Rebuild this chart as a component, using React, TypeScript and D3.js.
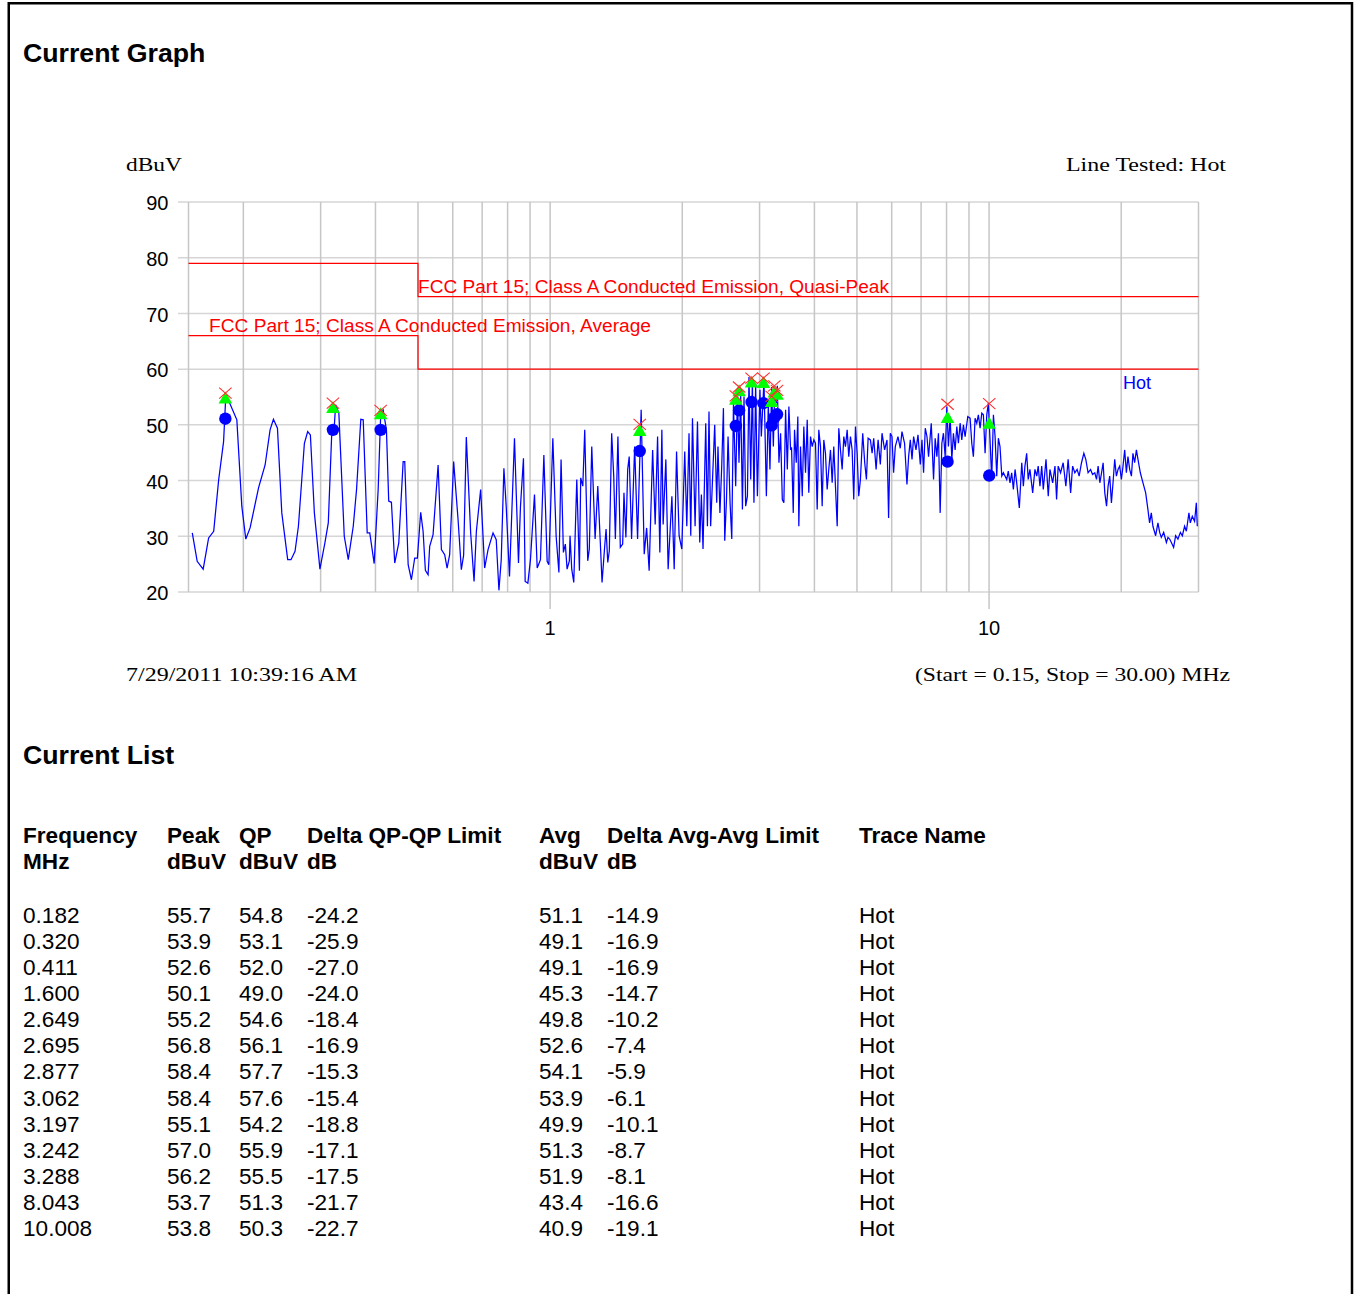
import React from "react";
import * as d3 from "d3";

// ---------- data ----------
const traceFreq = [
  0.153, 0.157, 0.162, 0.1667, 0.1712, 0.1757, 0.1803, 0.1825, 0.1933, 0.1984, 0.2026, 0.2072, 0.2166, 0.2242, 0.2301, 0.2342, 0.2392, 0.2447,
  0.2524, 0.2568, 0.2623, 0.267, 0.2755, 0.2803, 0.2843, 0.2903, 0.2989, 0.3068, 0.3123, 0.3178, 0.3223, 0.3245, 0.3301, 0.3396, 0.3468, 0.356,
  0.3622, 0.3704, 0.3751, 0.383, 0.3882, 0.3973, 0.4057, 0.4112, 0.4164, 0.4237, 0.4288, 0.4349, 0.4425, 0.452, 0.4625, 0.4664, 0.4748, 0.483,
  0.4914, 0.4984, 0.5071, 0.5135, 0.5197, 0.5271, 0.5316, 0.5411, 0.5556, 0.5653, 0.5751, 0.5824, 0.5903, 0.6028, 0.6169, 0.6276, 0.6352, 0.6442,
  0.6591, 0.6709, 0.6791, 0.6945, 0.7092, 0.722, 0.7411, 0.7537, 0.7644, 0.7737, 0.7846, 0.7941, 0.808, 0.8294, 0.847, 0.8559, 0.8694, 0.8772,
  0.8897, 0.9019, 0.9212, 0.9343, 0.9505, 0.9676, 0.9844, 0.9932, 1.0142, 1.032, 1.047, 1.059, 1.072, 1.083, 1.093, 1.106, 1.11, 1.12, 1.132,
  1.15, 1.166, 1.174, 1.187, 1.199, 1.218, 1.228, 1.244, 1.266, 1.284, 1.3, 1.313, 1.329, 1.341, 1.353, 1.364, 1.381, 1.396, 1.408, 1.427, 1.445,
  1.463, 1.473, 1.488, 1.502, 1.514, 1.533, 1.558, 1.582, 1.612, 1.638, 1.659, 1.681, 1.712, 1.735, 1.757, 1.778, 1.797, 1.809, 1.835, 1.857,
  1.894, 1.917, 1.941, 1.967, 1.995, 2.026, 2.048, 2.072, 2.091, 2.11, 2.139, 2.166, 2.192, 2.211, 2.23, 2.262, 2.282, 2.301, 2.321, 2.371,
  2.396, 2.412, 2.437, 2.46, 2.482, 2.499, 2.522, 2.543, 2.57, 2.593, 2.616, 2.647, 2.671, 2.693, 2.717, 2.742, 2.765, 2.789, 2.815, 2.838,
  2.864, 2.889, 2.913, 2.939, 2.966, 3.006, 3.028, 3.07, 3.109, 3.141, 3.168, 3.196, 3.225, 3.247, 3.276, 3.293, 3.321, 3.35, 3.38, 3.408,
  3.439, 3.47, 3.499, 3.53, 3.548, 3.58, 3.604, 3.637, 3.667, 3.686, 3.719, 3.753, 3.784, 3.818, 3.852, 3.884, 3.919, 3.954, 3.988, 4.023,
  4.059, 4.093, 4.13, 4.166, 4.202, 4.239, 4.277, 4.313, 4.352, 4.391, 4.428, 4.467, 4.508, 4.546, 4.586, 4.627, 4.667, 4.708, 4.75, 4.79,
  4.833, 4.876, 4.917, 4.961, 5.005, 5.047, 5.092, 5.154, 5.208, 5.255, 5.302, 5.366, 5.414, 5.46, 5.529, 5.587, 5.653, 5.703, 5.781, 5.854,
  5.903, 5.956, 6.009, 6.06, 6.114, 6.201, 6.276, 6.332, 6.419, 6.5, 6.557, 6.615, 6.675, 6.731, 6.816, 6.887, 6.971, 7.033, 7.092, 7.155,
  7.22, 7.28, 7.384, 7.473, 7.537, 7.604, 7.668, 7.737, 7.806, 7.871, 7.942, 8.013, 8.08, 8.152, 8.225, 8.294, 8.368, 8.443, 8.514, 8.591,
  8.667, 8.74, 8.818, 8.943, 9.052, 9.133, 9.21, 9.292, 9.374, 9.454, 9.54, 9.625, 9.706, 9.793, 9.88, 9.963, 10.05, 10.14, 10.23, 10.32,
  10.41, 10.5, 10.59, 10.69, 10.78, 10.97, 11.06, 11.16, 11.26, 11.36, 11.46, 11.56, 11.72, 11.87, 11.97, 12.07, 12.18, 12.28, 12.39, 12.57,
  12.72, 12.84, 12.94, 13.06, 13.18, 13.29, 13.48, 13.64, 13.76, 13.96, 14.13, 14.25, 14.37, 14.55, 14.75, 14.96, 15.14, 15.34, 15.5, 15.68,
  15.87, 16.04, 16.24, 16.44, 16.61, 16.81, 17.03, 17.21, 17.41, 17.57, 17.72, 17.88, 18.04, 18.19, 18.35, 18.52, 18.67, 18.83, 19.0, 19.16,
  19.33, 19.5, 19.67, 19.84, 20.02, 20.19, 20.37, 20.55, 20.72, 20.91, 21.1, 21.27, 21.46, 21.66, 21.84, 22.11, 22.42, 22.74, 23.01, 23.21,
  23.42, 23.62, 23.96, 24.25, 24.47, 24.68, 24.99, 25.35, 25.56, 25.79, 26.02, 26.33, 26.61, 26.93, 27.28, 27.56, 27.89, 28.15, 28.53, 28.74,
  29.04, 29.39, 29.66, 29.81,
];
const traceLevel = [
  30.6, 25.5, 24.1, 29.7, 30.9, 40.1, 47.0, 55.5, 50.9, 35.4, 29.5, 31.5, 38.7, 42.8, 49.1, 51.0, 49.4, 34.2,
  25.8, 25.8, 27.3, 31.8, 46.7, 48.8, 48.2, 34.2, 24.1, 28.8, 32.4, 47.9, 49.7, 53.6, 52.1, 30.0, 25.8, 31.8,
  38.4, 51.0, 50.9, 30.6, 30.6, 25.1, 38.4, 52.1, 52.7, 49.1, 36.3, 36.1, 25.2, 28.8, 43.4, 43.4, 24.9, 22.2,
  26.1, 26.1, 34.3, 30.9, 23.9, 23.1, 28.2, 30.3, 42.8, 27.6, 26.7, 24.3, 26.7, 43.4, 33.0, 24.0, 26.6, 47.8,
  30.6, 21.9, 30.9, 38.4, 24.3, 27.6, 30.6, 29.4, 20.3, 25.8, 42.2, 35.4, 22.8, 47.6, 25.2, 35.4, 44.0, 21.9,
  21.6, 25.8, 37.5, 24.3, 25.8, 44.6, 25.5, 24.9, 47.6, 30.0, 23.5, 43.8, 27.1, 28.6, 24.1, 25.6, 30.1, 24.1, 21.7,
  40.2, 23.8, 40.5, 39.0, 49.1, 25.6, 27.7, 46.1, 29.5, 39.0, 29.5, 21.7, 27.4, 31.3, 25.3, 27.4, 48.5, 40.8, 29.5, 47.9, 28.0,
  28.6, 37.8, 29.8, 42.0, 44.3, 29.5, 46.1, 29.5, 52.7, 26.8, 31.5, 23.8, 45.5, 32.1, 47.9, 27.1, 49.1, 32.1, 43.8, 24.1,
  37.2, 24.1, 45.2, 30.1, 27.7, 45.2, 31.8, 48.5, 30.1, 51.2, 31.8, 50.6, 28.9, 37.5, 27.7, 50.3, 31.8, 52.4, 31.8, 50.0,
  36.0, 46.1, 34.2, 42.6, 53.0, 29.2, 36.6, 47.9, 36.0, 29.5, 53.9, 39.0, 55.7, 43.2, 55.4, 34.8, 55.1, 35.4, 37.2, 58.6,
  40.2, 58.0, 36.0, 57.4, 37.2, 56.3, 47.9, 58.0, 37.2, 53.9, 42.0, 56.8, 46.1, 55.7, 53.9, 57.0, 43.2, 48.5, 36.6, 36.0,
  52.7, 42.0, 53.3, 45.5, 46.0, 34.2, 49.1, 43.2, 51.5, 31.8, 46.1, 37.2, 49.7, 41.4, 50.9, 37.8, 47.9, 46.1, 47.3, 46.7,
  34.8, 49.1, 46.1, 35.4, 47.3, 44.9, 38.4, 42.0, 45.5, 39.6, 46.1, 39.0, 31.8, 49.4, 45.5, 42.0, 47.9, 46.1, 49.1, 44.3,
  47.9, 45.5, 36.6, 49.7, 44.9, 37.2, 40.2, 48.5, 43.2, 40.2, 47.6, 47.3, 44.9, 47.6, 42.0, 47.3, 42.9, 48.5, 45.5, 47.3,
  33.3, 48.5, 47.9, 41.4, 46.1, 47.9, 45.8, 48.8, 46.7, 39.3, 44.3, 47.3, 43.8, 47.9, 45.5, 48.2, 42.9, 47.3, 41.4, 49.4,
  47.9, 44.3, 50.3, 40.2, 47.6, 44.3, 48.5, 34.2, 46.7, 48.5, 44.3, 53.3, 46.1, 51.5, 43.8, 48.5, 45.5, 49.7, 46.7, 50.3,
  47.3, 50.0, 47.9, 51.5, 51.2, 46.7, 44.3, 51.2, 50.3, 51.8, 49.4, 52.1, 51.8, 44.9, 51.8, 53.9, 47.3, 40.2, 51.8, 47.9,
  40.8, 47.6, 46.1, 40.8, 41.4, 40.2, 41.7, 39.6, 41.4, 38.4, 42.0, 39.6, 35.1, 43.2, 39.0, 42.6, 44.9, 40.2, 42.0, 37.8,
  42.0, 40.8, 42.6, 39.0, 42.6, 38.4, 43.8, 37.2, 42.0, 39.6, 42.6, 36.6, 42.6, 41.4, 43.2, 39.0, 43.8, 37.8, 42.6, 41.4,
  42.0, 40.8, 43.2, 44.9, 43.8, 41.4, 42.0, 41.1, 41.4, 40.2, 42.6, 39.6, 41.4, 43.2, 37.8, 35.4, 39.0, 40.8, 36.0, 39.6,
  43.8, 40.8, 42.0, 42.6, 40.2, 42.6, 45.5, 41.4, 44.3, 42.0, 40.8, 44.9, 43.2, 45.5, 43.8, 41.4, 39.6, 37.8, 34.8, 32.4,
  34.2, 31.8, 30.1, 32.4, 30.7, 29.8, 30.7, 28.9, 29.8, 29.5, 28.9, 28.0, 30.1, 29.5, 30.7, 30.1, 31.8, 30.9, 34.2, 32.4,
  33.6, 32.7, 36.0, 31.8,
];

const listFreq = [0.182, 0.32, 0.411, 1.6, 2.649, 2.695, 2.877, 3.062, 3.197, 3.242, 3.288, 8.043, 10.008];
const listPeak = [55.7, 53.9, 52.6, 50.1, 55.2, 56.8, 58.4, 58.4, 55.1, 57.0, 56.2, 53.7, 53.8];
const listQP = [54.8, 53.1, 52.0, 49.0, 54.6, 56.1, 57.7, 57.6, 54.2, 55.9, 55.5, 51.3, 50.3];
const listDeltaQP = [-24.2, -25.9, -27.0, -24.0, -18.4, -16.9, -15.3, -15.4, -18.8, -17.1, -17.5, -21.7, -22.7];
const listAvg = [51.1, 49.1, 49.1, 45.3, 49.8, 52.6, 54.1, 53.9, 49.9, 51.3, 51.9, 43.4, 40.9];
const listDeltaAvg = [-14.9, -16.9, -16.9, -14.7, -10.2, -7.4, -5.9, -6.1, -10.1, -8.7, -8.1, -16.6, -19.1];
const listTrace = ["Hot", "Hot", "Hot", "Hot", "Hot", "Hot", "Hot", "Hot", "Hot", "Hot", "Hot", "Hot", "Hot"];

const qpLimitFreq = [0.15, 0.5, 0.5, 30];
const qpLimitLevel = [79, 79, 73, 73];
const avgLimitFreq = [0.15, 0.5, 0.5, 30];
const avgLimitLevel = [66, 66, 60, 60];

const yTicks = [20, 30, 40, 50, 60, 70, 80, 90];
const xGrid = [0.15, 0.2, 0.3, 0.4, 0.5, 0.6, 0.7, 0.8, 0.9, 1, 2, 3, 4, 5, 6, 7, 8, 9, 10, 20, 30];
const xLabels = [1, 10];

const headerRow1 = ["Frequency", "Peak", "QP", "Delta QP-QP Limit", "Avg", "Delta Avg-Avg Limit", "Trace Name"];
const headerRow2 = ["MHz", "dBuV", "dBuV", "dB", "dBuV", "dB", ""];

// ---------- layout ----------
const W = 1358;
const H = 1294;
const SANS = "Arial, 'Liberation Sans', Helvetica, sans-serif";
const SERIF = "'Times New Roman', 'Liberation Serif', serif";
const colX = [23, 167, 239, 307, 539, 607, 859];

export default function App() {
  const x = d3.scaleLog().domain([0.15, 30]).range([188.5, 1198.5]);
  const y = d3.scaleLinear().domain([20, 90]).range([592, 202]);

  const line = d3
    .line<[number, number]>()
    .x((d) => x(d[0]))
    .y((d) => y(d[1]));

  const tracePts: [number, number][] = traceFreq.map((f, i) => [f, traceLevel[i]]);
  const qpPts: [number, number][] = qpLimitFreq.map((f, i) => [f, qpLimitLevel[i]]);
  const avgPts: [number, number][] = avgLimitFreq.map((f, i) => [f, avgLimitLevel[i]]);

  const rows = listFreq.map((f, i) => [
    f.toFixed(3),
    listPeak[i].toFixed(1),
    listQP[i].toFixed(1),
    listDeltaQP[i].toFixed(1),
    listAvg[i].toFixed(1),
    listDeltaAvg[i].toFixed(1),
    listTrace[i],
  ]);

  return (
    <svg
      width={W}
      height={H}
      style={{ position: "fixed", left: 0, top: 0, display: "block", background: "#fff" }}
    >
      <rect x={0} y={0} width={W} height={H} fill="#fff" />
      {/* page frame */}
      <path d={`M8.75,${H + 10} V3.25 H1352 V${H + 10}`} fill="none" stroke="#000" strokeWidth={2.5} />

      <text x={23} y={61.5} fontFamily={SANS} fontWeight="bold" fontSize={26.7} fill="#000">
        Current Graph
      </text>

      {/* chart header texts */}
      <text x={126} y={170.5} fontFamily={SERIF} fontSize={18.5} textLength={56} lengthAdjust="spacingAndGlyphs" fill="#000">
        dBuV
      </text>
      <text x={1066} y={170.5} fontFamily={SERIF} fontSize={18.5} textLength={160} lengthAdjust="spacingAndGlyphs" fill="#000">
        Line Tested: Hot
      </text>

      {/* horizontal grid */}
      {yTicks.map((t) => (
        <line key={"h" + t} x1={178} x2={x(30)} y1={y(t)} y2={y(t)} stroke="#d6d6d6" strokeWidth={1.5} />
      ))}
      {/* vertical grid */}
      {xGrid.map((g) => (
        <line
          key={"v" + g}
          x1={x(g)}
          x2={x(g)}
          y1={y(90)}
          y2={xLabels.includes(g) ? y(20) + 17 : y(20)}
          stroke="#c6c6c6"
          strokeWidth={1.5}
        />
      ))}

      {/* y tick labels */}
      {yTicks.map((t) => (
        <text key={"yl" + t} x={168.5} y={y(t) + 8.3} textAnchor="end" fontFamily={SANS} fontSize={20} fill="#000">
          {t}
        </text>
      ))}
      {/* x tick labels */}
      {xLabels.map((t) => (
        <text key={"xl" + t} x={x(t)} y={634.5} textAnchor="middle" fontFamily={SANS} fontSize={20} fill="#000">
          {t}
        </text>
      ))}

      {/* limit lines */}
      <path d={line(qpPts) || ""} fill="none" stroke="#ff0000" strokeWidth={1.2} />
      <path d={line(avgPts) || ""} fill="none" stroke="#ff0000" strokeWidth={1.2} />
      <text x={x(0.5)} y={293} fontFamily={SANS} fontSize={17.5} textLength={471} lengthAdjust="spacingAndGlyphs" fill="#ff0000">
        FCC Part 15; Class A Conducted Emission, Quasi-Peak
      </text>
      <text x={209} y={332} fontFamily={SANS} fontSize={17.5} textLength={442} lengthAdjust="spacingAndGlyphs" fill="#ff0000">
        FCC Part 15; Class A Conducted Emission, Average
      </text>

      {/* trace */}
      <path d={line(tracePts) || ""} fill="none" stroke="#0000ff" strokeWidth={1.25} strokeLinejoin="miter" />
      <text x={1123} y={388.5} fontFamily={SANS} fontSize={18} fill="#0000ff">
        Hot
      </text>

      {/* markers: avg (blue dots), QP (green triangles), peak (red X) */}
      {listFreq.map((f, i) => (
        <circle key={"a" + i} cx={x(f)} cy={y(listAvg[i])} r={6.2} fill="#0000ff" />
      ))}
      {listFreq.map((f, i) => {
        const cx = x(f);
        const cy = y(listQP[i]);
        return (
          <path
            key={"q" + i}
            d={`M${cx - 6.8},${cy + 5.5} L${cx + 6.8},${cy + 5.5} L${cx},${cy - 6.5} Z`}
            fill="#00ff00"
          />
        );
      })}
      {listFreq.map((f, i) => {
        const cx = x(f);
        const cy = y(listPeak[i]);
        return (
          <path
            key={"p" + i}
            d={`M${cx - 6.2},${cy - 5.5} L${cx + 6.2},${cy + 5.5} M${cx - 6.2},${cy + 5.5} L${cx + 6.2},${cy - 5.5}`}
            stroke="#ff3030"
            strokeWidth={1.1}
            fill="none"
          />
        );
      })}

      {/* footer texts */}
      <text x={126} y={680.5} fontFamily={SERIF} fontSize={18.5} textLength={231} lengthAdjust="spacingAndGlyphs" fill="#000">
        7/29/2011 10:39:16 AM
      </text>
      <text x={915} y={680.5} fontFamily={SERIF} fontSize={18.5} textLength={315} lengthAdjust="spacingAndGlyphs" fill="#000">
        (Start = 0.15, Stop = 30.00) MHz
      </text>

      {/* list */}
      <text x={23} y={763.5} fontFamily={SANS} fontWeight="bold" fontSize={26.7} fill="#000">
        Current List
      </text>
      {headerRow1.map((h, j) => (
        <text key={"h1" + j} x={colX[j]} y={843} fontFamily={SANS} fontWeight="bold" fontSize={22.6} fill="#000">
          {h}
        </text>
      ))}
      {headerRow2.map((h, j) =>
        h ? (
          <text key={"h2" + j} x={colX[j]} y={869} fontFamily={SANS} fontWeight="bold" fontSize={22.6} fill="#000">
            {h}
          </text>
        ) : null
      )}
      {rows.map((r, i) =>
        r.map((c, j) => (
          <text key={"c" + i + "_" + j} x={colX[j]} y={923 + i * 26.08} fontFamily={SANS} fontSize={22.6} fill="#000">
            {c}
          </text>
        ))
      )}
    </svg>
  );
}
